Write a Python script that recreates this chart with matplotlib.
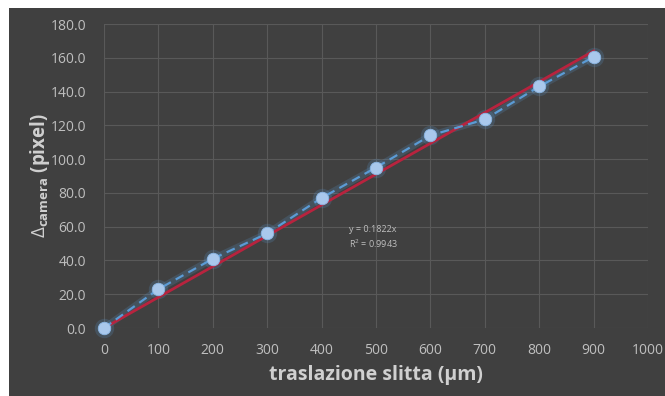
import matplotlib
matplotlib.use("Agg")
import matplotlib.pyplot as plt
import numpy as np
from matplotlib.patches import Rectangle

# dati
traslazione = [0, 100, 200, 300, 400, 500, 600, 700, 800, 900]
delta_camera = [0.0, 23.0, 41.0, 56.0, 77.0, 95.0, 114.0, 123.5, 143.0, 160.5]
slope = 0.1822
r2 = 0.9943

bg = '#404040'
grid_c = '#595959'
txt_c = '#BFBFBF'
lab_c = '#D0D0D0'

plt.rcParams['font.family'] = ['Open Sans', 'DejaVu Sans']
plt.rcParams['mathtext.fontset'] = 'custom'
plt.rcParams['mathtext.rm'] = 'Open Sans'
plt.rcParams['mathtext.bf'] = 'Open Sans:bold'

fig = plt.figure(figsize=(6.65, 3.96), dpi=100)
fig.patch.set_facecolor('white')
# riquadro scuro del grafico (bordo bianco a sinistra e in alto)
fig.patches.append(Rectangle((9 / 665, 0), 1, 1 - 8 / 396, transform=fig.transFigure,
                             facecolor=bg, edgecolor='none', zorder=-10))

ax = fig.add_axes([104 / 665, 68 / 396, 544 / 665, 304 / 396])
ax.set_facecolor(bg)

ax.set_xlim(0, 1000)
ax.set_ylim(0, 180)
ax.set_xticks(np.arange(0, 1001, 100))
ax.set_yticks(np.arange(0, 181, 20))
ax.set_yticklabels([f"{v:.1f}" for v in np.arange(0, 181, 20)])
ax.grid(True, color=grid_c, linewidth=0.8)
ax.set_axisbelow(True)
for s in ax.spines.values():
    s.set_visible(False)
ax.tick_params(colors=txt_c, labelcolor=txt_c, length=0, labelsize=10)
ax.tick_params(axis='y', pad=13)
ax.tick_params(axis='x', pad=11)

# retta di regressione
xf = np.array([0, traslazione[-1]])
ax.plot(xf, slope * xf, color='#B8233E', linewidth=2.0, zorder=3, clip_on=False)

# alone dei punti
ax.plot(traslazione, delta_camera, color='#5B9BD5', alpha=0.2, linewidth=5,
        marker='o', markersize=14, markeredgewidth=0, zorder=2, clip_on=False)
ax.plot(traslazione, delta_camera, color='#5B9BD5', linestyle=(0, (4, 2.5)), linewidth=1.6,
        zorder=4, clip_on=False)
ax.plot(traslazione, delta_camera, linestyle='none', marker='o', markersize=9,
        markerfacecolor='#A9C8EC', markeredgecolor='#8AB6E4', markeredgewidth=0.6,
        zorder=5, clip_on=False)

ax.text(450, 46, f"y = {slope}x\nR$^2$ = {r2}", color=txt_c, fontsize=6.5,
        linespacing=1.4, va='bottom', ha='left')

ax.set_xlabel('traslazione slitta (\u00b5m)', color=lab_c, fontsize=14,
              fontweight='bold')
ax.set_ylabel(r'$\Delta_{\mathbf{camera}}$ (pixel)', color=lab_c, fontsize=13.5,
              fontweight='bold')
ax.xaxis.set_label_coords(0.5, (328 - 365) / 304)
ax.yaxis.set_label_coords((52 - 104) / 544, 0.5)

fig.savefig('out.png', dpi=100, facecolor=fig.get_facecolor())
